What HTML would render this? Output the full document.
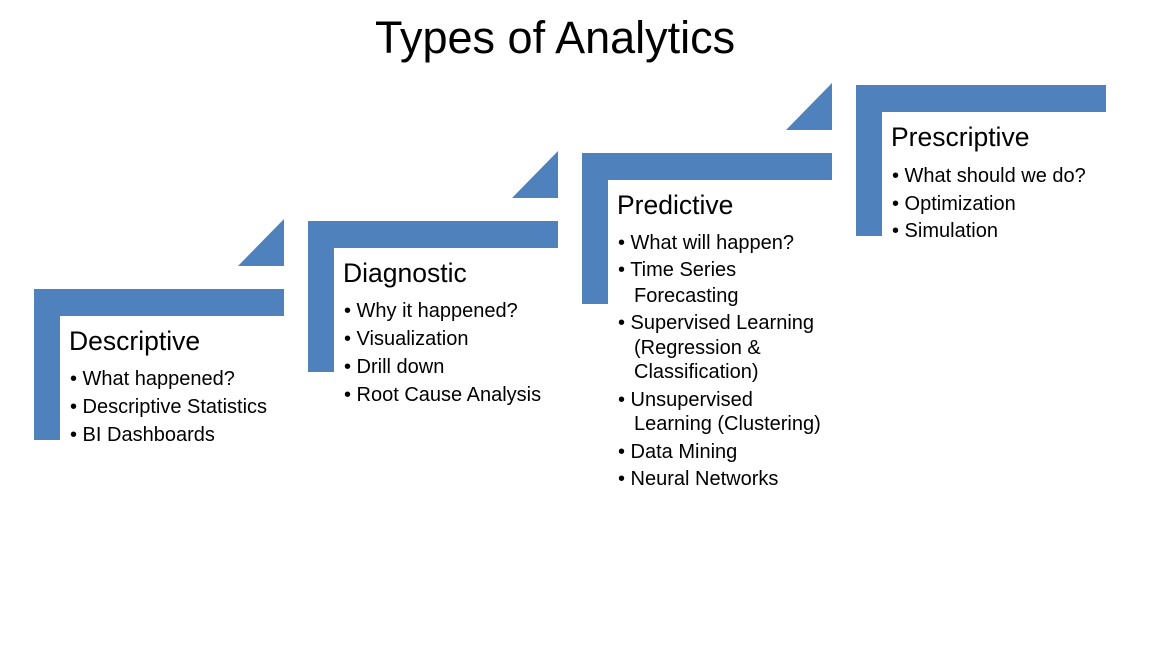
<!DOCTYPE html>
<html><head><meta charset="utf-8"><style>
body{margin:0;width:1152px;height:648px;background:#fff;position:relative;overflow:hidden;font-family:"Liberation Sans",sans-serif;color:#000}
.t{position:absolute;white-space:nowrap;line-height:24px;height:24px}
.h{font-size:26.5px}
.b{font-size:20px}
</style></head><body>
<svg width="1152" height="648" style="position:absolute;left:0;top:0">
<g fill="#4f81bd">
<rect x="34" y="289" width="250" height="27"/><rect x="34" y="289" width="26" height="151"/><polygon points="238,266 284,266 284,219"/>
<rect x="308" y="221" width="250" height="27"/><rect x="308" y="221" width="26" height="151"/><polygon points="512,198 558,198 558,151"/>
<rect x="582" y="153" width="250" height="27"/><rect x="582" y="153" width="26" height="151"/><polygon points="786,130 832,130 832,83"/>
<rect x="856" y="85" width="250" height="27"/><rect x="856" y="85" width="26" height="151"/>
</g></svg>
<div class="t" style="left:375px;top:14px;font-size:45px;line-height:48px;height:48px">Types of Analytics</div>

<div class="t h" style="left:69px;top:329px">Descriptive</div>
<div class="t b" style="left:70px;top:367px">• What happened?</div>
<div class="t b" style="left:70px;top:395px">• Descriptive Statistics</div>
<div class="t b" style="left:70px;top:423px">• BI Dashboards</div>

<div class="t h" style="left:343px;top:261px">Diagnostic</div>
<div class="t b" style="left:344px;top:299px">• Why it happened?</div>
<div class="t b" style="left:344px;top:327px">• Visualization</div>
<div class="t b" style="left:344px;top:355px">• Drill down</div>
<div class="t b" style="left:344px;top:383px">• Root Cause Analysis</div>

<div class="t h" style="left:617px;top:193px">Predictive</div>
<div class="t b" style="left:618px;top:231px">• What will happen?</div>
<div class="t b" style="left:618px;top:258px">• Time Series</div>
<div class="t b" style="left:634px;top:284px">Forecasting</div>
<div class="t b" style="left:618px;top:311px">• Supervised Learning</div>
<div class="t b" style="left:634px;top:336px">(Regression &amp;</div>
<div class="t b" style="left:634px;top:360px">Classification)</div>
<div class="t b" style="left:618px;top:388px">• Unsupervised</div>
<div class="t b" style="left:634px;top:412px">Learning (Clustering)</div>
<div class="t b" style="left:618px;top:440px">• Data Mining</div>
<div class="t b" style="left:618px;top:467px">• Neural Networks</div>

<div class="t h" style="left:891px;top:125px">Prescriptive</div>
<div class="t b" style="left:892px;top:164px">• What should we do?</div>
<div class="t b" style="left:892px;top:192px">• Optimization</div>
<div class="t b" style="left:892px;top:219px">• Simulation</div>
</body></html>
